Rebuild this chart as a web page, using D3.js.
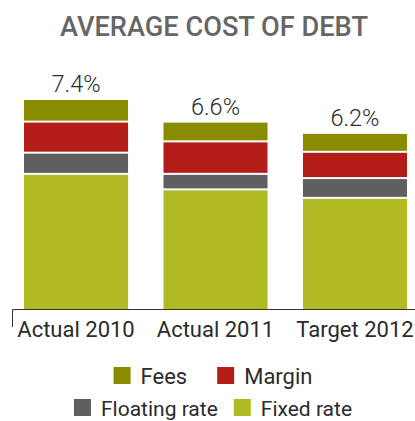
<!DOCTYPE html>
<html>
<head>
<meta charset="utf-8">
<script src="https://cdn.jsdelivr.net/npm/d3@7"></script>
<style>
  html, body { margin: 0; padding: 0; background: #ffffff; }
  svg { display: block; font-family: Roboto, "Open Sans", sans-serif; }
</style>
</head>
<body>
<svg id="chart" width="415" height="421"></svg>
<script>
// Average cost of debt (%) split by component
const categories = ["Actual 2010", "Actual 2011", "Target 2012"];
const fixedRate    = [4.75, 4.20, 3.90];
const floatingRate = [0.75, 0.55, 0.70];
const margin       = [1.10, 1.15, 0.93];
const fees         = [0.80, 0.70, 0.67];
const totalLabels  = ["7.4%", "6.6%", "6.2%"];

const seriesKeys   = ["Fixed rate", "Floating rate", "Margin", "Fees"];
const seriesValues = [fixedRate, floatingRate, margin, fees];
const seriesColors = ["#b0ba22", "#5f5f61", "#b41c18", "#8a8c00"];
const legendRows   = [["Fees", "Margin"], ["Floating rate", "Fixed rate"]];

const svg = d3.select("#chart");
const W = 415;

const rows = categories.map((c, i) => {
  const r = { category: c };
  seriesKeys.forEach((k, j) => { r[k] = seriesValues[j][i]; });
  return r;
});
const stacked = d3.stack().keys(seriesKeys)(rows);

const x = d3.scaleBand().domain(categories).range([24, 407]).paddingInner(0.254).paddingOuter(0);
const y = d3.scaleLinear().domain([0, 7.4]).range([309, 100]);
const color = d3.scaleOrdinal().domain(seriesKeys).range(seriesColors);

// Title
svg.append("text")
  .attr("x", 214).attr("y", 36)
  .attr("text-anchor", "middle")
  .attr("fill", "#666666")
  .attr("font-size", 27)
  .attr("font-weight", 500)
  .attr("textLength", 308)
  .attr("lengthAdjust", "spacingAndGlyphs")
  .text("AVERAGE COST OF DEBT");

// Stacked segments, separated by thin white gaps
const gap = 2;
svg.append("g").selectAll("g")
  .data(stacked)
  .join("g")
  .attr("fill", d => color(d.key))
  .selectAll("rect")
  .data((d, si) => d.map(p => ({ p, si })))
  .join("rect")
  .attr("x", d => x(d.p.data.category))
  .attr("width", x.bandwidth())
  .attr("y", d => y(d.p[1]))
  .attr("height", d => {
    const h = y(d.p[0]) - y(d.p[1]);
    return d.si === 0 ? h : h - gap;
  });

// Totals above each bar
const totals = categories.map((c, i) => d3.sum(seriesValues, s => s[i]));
svg.append("g").selectAll("text")
  .data(categories)
  .join("text")
  .attr("x", d => x(d) + x.bandwidth() / 2)
  .attr("y", (d, i) => y(totals[i]) - 8)
  .attr("text-anchor", "middle")
  .attr("fill", "#2b2b2b")
  .attr("font-size", 23.5)
  .attr("font-weight", 300)
  .text((d, i) => totalLabels[i]);

// Category axis
const axis = svg.append("g")
  .attr("transform", "translate(0,309)")
  .call(d3.axisBottom(x).tickSize(0).tickPadding(12));
axis.select(".domain").remove();
axis.selectAll("text")
  .attr("fill", "#2b2b2b")
  .attr("font-size", 22)
  .attr("font-family", "Roboto, sans-serif")
  .attr("dy", "0.71em");

svg.append("path")
  .attr("d", `M12.5,327V309.5H${W}`)
  .attr("fill", "none")
  .attr("stroke", "#333333")
  .attr("stroke-width", 1);

// Legend, two centred rows
const sw = 17, textGap = 10;
const rowY = [367, 399];
const rowGap = [30, 16];
const rowFont = [22, 21];
legendRows.forEach((keys, ri) => {
  const g = svg.append("g");
  const items = g.selectAll("g").data(keys).join("g");
  items.append("rect")
    .attr("width", sw).attr("height", sw)
    .attr("y", rowY[ri])
    .attr("fill", d => color(d));
  items.append("text")
    .attr("x", sw + textGap)
    .attr("y", rowY[ri] + sw)
    .attr("fill", "#2b2b2b")
    .attr("font-size", rowFont[ri])
    .text(d => d);
  const widths = [];
  items.each(function () { widths.push(this.getBBox().width); });
  const total = d3.sum(widths) + rowGap[ri] * (keys.length - 1);
  let start = 213 - total / 2;
  items.attr("transform", (d, i) => {
    const t = `translate(${start},0)`;
    start += widths[i] + rowGap[ri];
    return t;
  });
});
</script>
</body>
</html>
